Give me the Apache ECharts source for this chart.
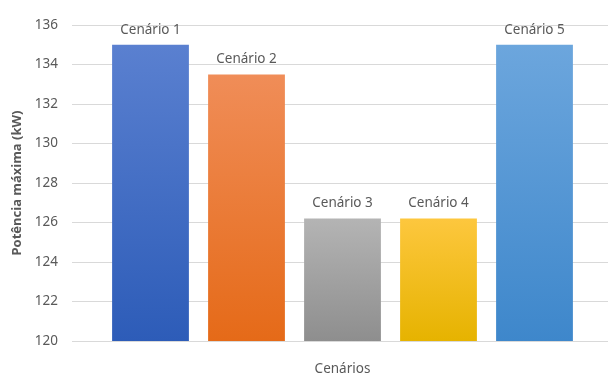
<!DOCTYPE html>
<html>
<head>
<meta charset="utf-8">
<script src="https://cdn.jsdelivr.net/npm/echarts@6/dist/echarts.min.js"></script>
<style>html,body{margin:0;padding:0;background:#fff;}#c{width:608px;height:376px;}</style>
</head>
<body>
<div id="c"></div>
<script>
var categories = ["Cenário 1", "Cenário 2", "Cenário 3", "Cenário 4", "Cenário 5"];
var values = [135, 133.5, 126.2, 126.2, 135];
var yTicks = [120, 122, 124, 126, 128, 130, 132, 134, 136];
var topColors = ["#5a80d0", "#f08d58", "#b4b4b4", "#fdc73e", "#6ca6dd"];
var bottomColors = ["#2d5cb8", "#e56a18", "#8e8e8e", "#e6b300", "#3e87cb"];

var FONT = "Noto Sans";
var chart = echarts.init(document.getElementById('c'), null, {renderer: 'canvas'});
var yMin = yTicks[0], yMax = yTicks[yTicks.length - 1], yStep = yTicks[1] - yTicks[0];

chart.setOption({
  animation: false,
  textStyle: {fontFamily: FONT},
  grid: [
    {left: 72, right: 0, top: 25, bottom: 35, outerBoundsMode: 'none', containLabel: false},
    {left: 102.5, width: 480, top: 25, bottom: 35, outerBoundsMode: 'none', containLabel: false}
  ],
  xAxis: [
    {gridIndex: 0, type: 'value', show: false, min: 0, max: 1},
    {gridIndex: 1, type: 'category', data: categories,
     axisLine: {show: false}, axisTick: {show: false}, axisLabel: {show: false},
     name: 'Cenários', nameLocation: 'middle', nameGap: 21,
     nameTextStyle: {color: '#595959', fontSize: 13.5, fontFamily: FONT}}
  ],
  yAxis: [
    {gridIndex: 0, type: 'value', min: yMin, max: yMax, interval: yStep,
     axisLine: {show: false}, axisTick: {show: false},
     axisLabel: {color: '#595959', fontSize: 13.5, margin: 14, fontFamily: FONT},
     splitLine: {lineStyle: {color: '#d9d9d9', width: 1}},
     name: 'Potência máxima (kW)', nameLocation: 'middle', nameGap: 47, nameRotate: 90,
     nameTextStyle: {color: '#595959', fontSize: 13, fontWeight: 'bold', fontFamily: FONT}},
    {gridIndex: 1, type: 'value', min: yMin, max: yMax, interval: yStep, show: false,
     splitLine: {show: false}}
  ],
  series: [{
    type: 'bar',
    xAxisIndex: 1, yAxisIndex: 1,
    barCategoryGap: '20%',
    data: values.map(function (v, i) {
      return {
        value: v,
        itemStyle: {
          color: new echarts.graphic.LinearGradient(0, 0, 0, 1, [
            {offset: 0, color: topColors[i]},
            {offset: 1, color: bottomColors[i]}
          ])
        }
      };
    }),
    label: {show: true, position: 'top', distance: 8, formatter: '{b}',
            color: '#595959', fontSize: 13.5, fontFamily: FONT}
  }]
});
</script>
</body>
</html>
